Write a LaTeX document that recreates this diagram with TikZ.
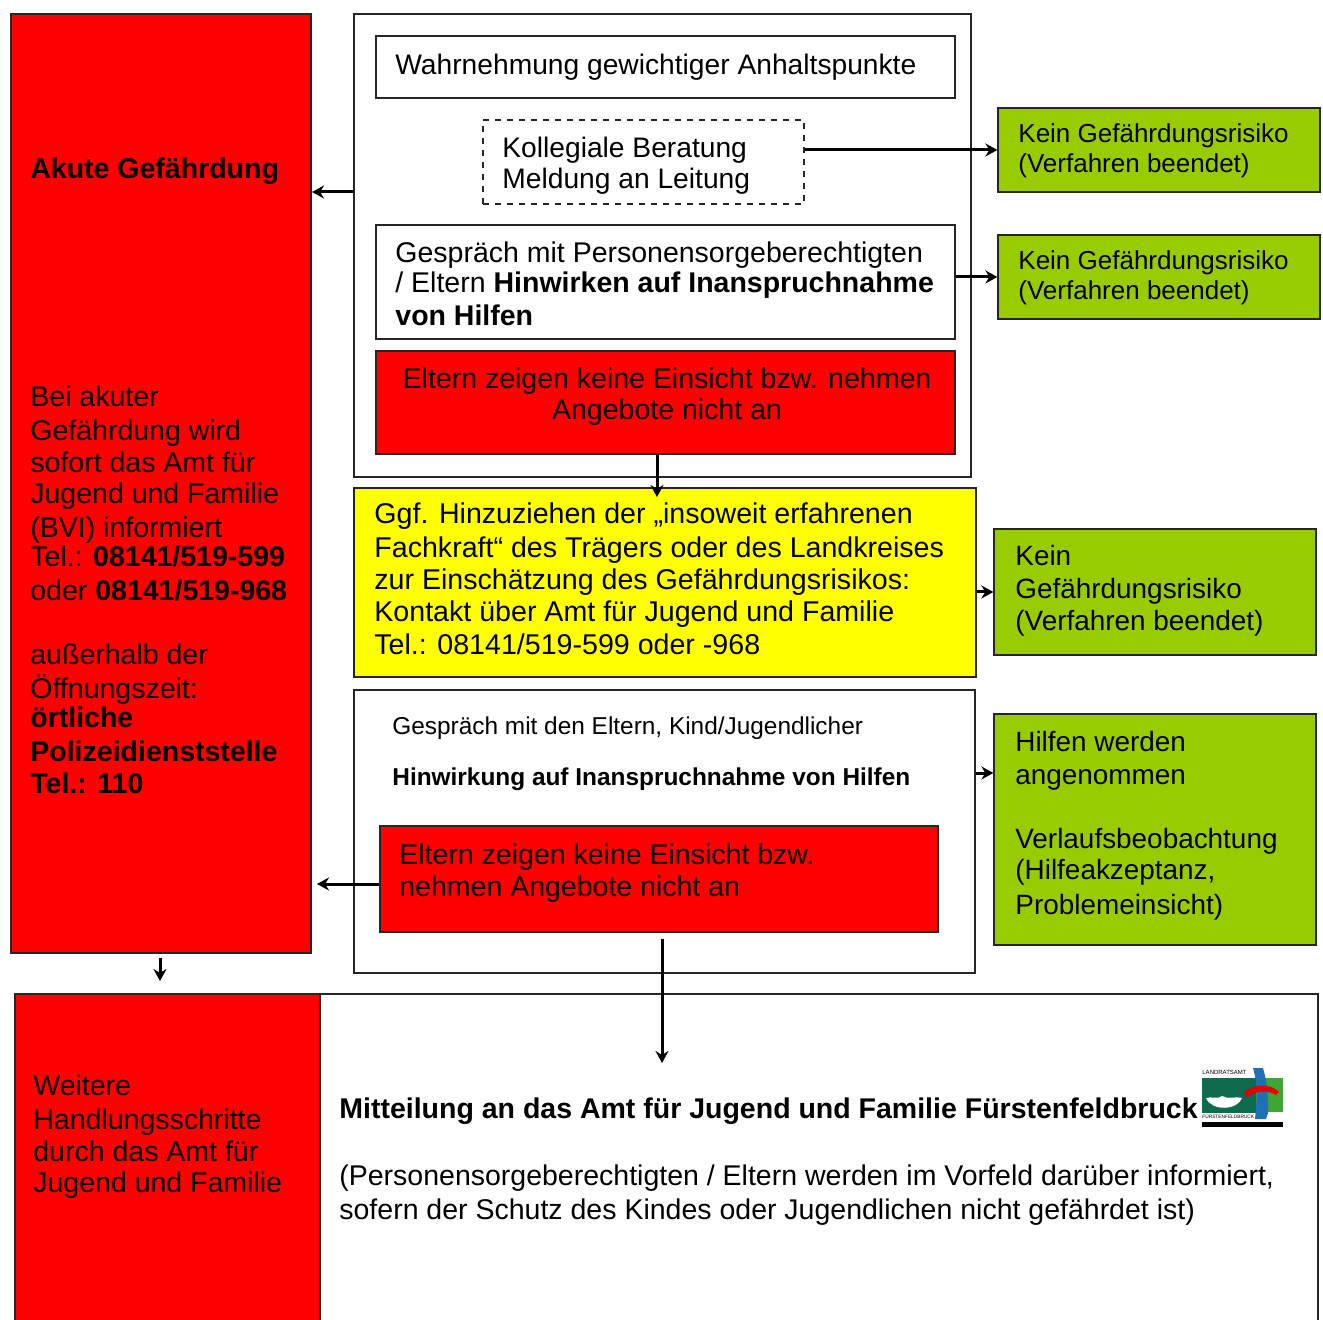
\documentclass[tikz,border=0pt]{standalone}
\usepackage{fontspec}
\setmainfont{Liberation Sans}
\usetikzlibrary{positioning, fit, arrows.meta}
\definecolor{akutered}{HTML}{FF0000}
\definecolor{hilfegreen}{HTML}{99CC00}
\definecolor{fachyellow}{HTML}{FFFF00}
\definecolor{logoteal}{HTML}{0F6B4F}
\definecolor{logogreen}{HTML}{3FA535}
\definecolor{logoblue}{HTML}{1F6FB5}
\tikzset{style={font=\fontsize{14.25}{16}\selectfont}}
\begin{document}
\begin{tikzpicture}[x=0.5pt,y=-0.5pt,>={Stealth[length=6pt,width=6.5pt]},black,
                box/.style={draw=black!85,line width=0.6pt,inner sep=0pt,fit={#1}},
                redbox/.style={box={#1},fill=akutered},
                greenbox/.style={box={#1},fill=hilfegreen},
                txt/.style={anchor=north west,inner sep=0pt,align=left},
                gruent/.style={txt,font=\fontsize{13.95}{16}\selectfont},
                kleingruent/.style={txt,font=\fontsize{13}{15}\selectfont},
                pfeil/.style={->,line width=1.5pt}]
                \useasboundingbox (0,0) rectangle (1323,1320);
                \clip (0,0) rectangle (1323,1320);
                % linke Spalte
                \node[redbox={(11,14) (311,953)}] (akut) {};
                \node[box={(320,994) (1318,1345)}] (mitteilung) {};
                \node[redbox={(15,994) (320,1345)}] (weitere) {};
                % erster Block
                \node[box={(354,14) (971,477)}] (block) {};
                \node[box={(376,36) (955,98)}] (wahr) {};
                \node[box={(483,120) (804,204)},dashed] (kollegial) {};
                \node[box={(376,225) (955,339)}] (gespraech) {};
                \node[redbox={(376,351) (955,454)}] (keineins) {};
                \node[box={(354,488) (976,677)},fill=fachyellow] (fachkraft) {};
                % zweiter Block
                \node[box={(354,690) (975,973)}] (eltern) {};
                \node[redbox={(380,826) (938,932)}] (keinzwei) {};
                % rechte Spalte
                \node[greenbox={(998,108) (1320,192)}] (gruen1) {};
                \node[greenbox={(998,235) (1320,319)}] (gruen2) {};
                \node[greenbox={(994,529) (1316,655)}] (gruen3) {};
                \node[greenbox={(994,714) (1316,945)}] (hilfen) {};
                % Texte
                \node[txt,font=\fontsize{14.1}{16}\selectfont] (wahrt) at (395,54) {Wahrnehmung gewichtiger Anhaltspunkte};
                \node[txt,font=\fontsize{14.1}{16}\selectfont] (kollt) at (502,137) {Kollegiale Beratung\\[-.5pt]Meldung an Leitung};
                \node[txt] (gespt) at (395,241) {Gespräch mit Personensorgeberechtigten\\[-1pt]/ Eltern \textbf{Hinwirken auf Inanspruchnahme}\\[.5pt]\textbf{von Hilfen}};
                \node[anchor=north,inner sep=0pt,align=center] (einst) at (667,367) {Eltern zeigen keine Einsicht bzw. nehmen\\[-.5pt]Angebote nicht an};
                \node[txt,font=\fontsize{14.3}{16}\selectfont] (facht) at (374,502) {Ggf. Hinzuziehen der „insoweit erfahrenen\\[1pt]Fachkraft“ des Trägers oder des Landkreises\\zur Einschätzung des Gefährdungsrisikos:\\Kontakt über Amt für Jugend und Familie\\[.5pt]Tel.: 08141/519-599 oder -968};
                \node[kleingruent] (g1t) at (1018,123) {Kein Gefährdungsrisiko\\(Verfahren beendet)};
                \node[kleingruent] (g2t) at (1018,250) {Kein Gefährdungsrisiko\\(Verfahren beendet)};
                \node[gruent] (g3t) at (1015,545) {Kein\\[.5pt]Gefährdungsrisiko\\(Verfahren beendet)};
                \node[txt,font=\fontsize{12.2}{25.5}\selectfont] (eltt) at (392,716) {Gespräch mit den Eltern, Kind/Jugendlicher\\\textbf{Hinwirkung auf Inanspruchnahme von Hilfen}};
                \node[txt] (zweit) at (399,843) {Eltern zeigen keine Einsicht bzw.\\nehmen Angebote nicht an};
                \node[gruent] (hilft) at (1015,731) {Hilfen werden\\[.5pt]angenommen\\[16pt]Verlaufsbeobachtung\\[-.5pt](Hilfeakzeptanz,\\[1.5pt]Problemeinsicht)};
                \node[txt] (akt) at (30,157) {\textbf{Akute Gefährdung}};
                \node[txt] (bvit) at (30,385) {Bei akuter\\[1pt]Gefährdung wird\\sofort das Amt für\\[-.5pt]Jugend und Familie\\[1pt](BVI) informiert\\[-1.5pt]Tel.: \textbf{08141/519-599}\\[1pt]oder \textbf{08141/519-968}\\[16pt]außerhalb der\\[1pt]Öffnungszeit:\\[-1.5pt]\textbf{örtliche}\\[1pt]\textbf{Polizeidienststelle}\\\textbf{Tel.: 110}};
                \node[txt] (weitt) at (33,1074) {Weitere\\[1pt]Handlungsschritte\\durch das Amt für\\[-.5pt]Jugend und Familie};
                \node[txt] (mittt) at (339,1097) {\textbf{Mitteilung an das Amt für Jugend und Familie Fürstenfeldbruck}};
                \node[txt] (perst) at (339,1164) {(Personensorgeberechtigten / Eltern werden im Vorfeld darüber informiert,\\[1pt]sofern der Schutz des Kindes oder Jugendlichen nicht gefährdet ist)};
                % Pfeile
                \coordinate (ziel1) at (312,192);
                \coordinate (ziel2) at (317,884);
                \coordinate (ziel3) at (662,1063);
                \coordinate (ziel4) at (160,981);
                \coordinate (ziel5) at (657,497);
                \coordinate (hoehe) at (0,773);
                \draw[pfeil] (block.west |- ziel1) -- (ziel1);
                \draw[pfeil] (kollegial.east |- gruen1.west) -- (gruen1.west);
                \draw[pfeil] (gespraech.east |- gruen2.west) -- (gruen2.west);
                \draw[pfeil] (keineins.south -| ziel5) -- (ziel5);
                \draw[pfeil] (fachkraft.east |- gruen3.west) -- (gruen3.west);
                \draw[pfeil] (eltern.east |- hoehe) -- (hilfen.west |- hoehe);
                \draw[pfeil] (keinzwei.west |- ziel2) -- (ziel2);
                \draw[pfeil] (keinzwei.south -| ziel3) ++(0,6) -- (ziel3);
                \draw[pfeil] (akut.south -| ziel4) ++(0,4) -- (ziel4);
                % Logo
                \fill[logoteal] (1202,1078) rectangle (1256,1113);
                \fill[logogreen] (1256,1078) rectangle (1283,1112);
                \fill[white] (1206,1098) .. controls (1212,1096) and (1216,1100) .. (1222,1096) .. controls (1228,1100) and (1234,1096) .. (1242,1098) .. controls (1238,1110) and (1212,1112) .. (1206,1098) -- cycle;
                \fill[logoblue] (1253,1068) -- (1263,1068) .. controls (1268,1085) and (1268,1100) .. (1268,1113) -- (1266,1119) -- (1255,1119) .. controls (1257,1100) and (1258,1085) .. (1253,1068) -- cycle;
                \fill[red!90!black] (1243,1094) .. controls (1250,1084) and (1270,1082) .. (1279,1092) -- (1276,1095) .. controls (1268,1090) and (1255,1090) .. (1248,1097) -- cycle;
                \fill[black] (1202,1122) rectangle (1283,1127);
                \node[anchor=west,inner sep=0pt,font=\fontsize{3}{3}\selectfont] (logoo) at (1202,1072) {LANDRATSAMT};
                \node[anchor=west,inner sep=0pt,font=\fontsize{2.4}{3}\selectfont] (logou) at (1202,1117) {FÜRSTENFELDBRUCK};
\end{tikzpicture}
\end{document}
